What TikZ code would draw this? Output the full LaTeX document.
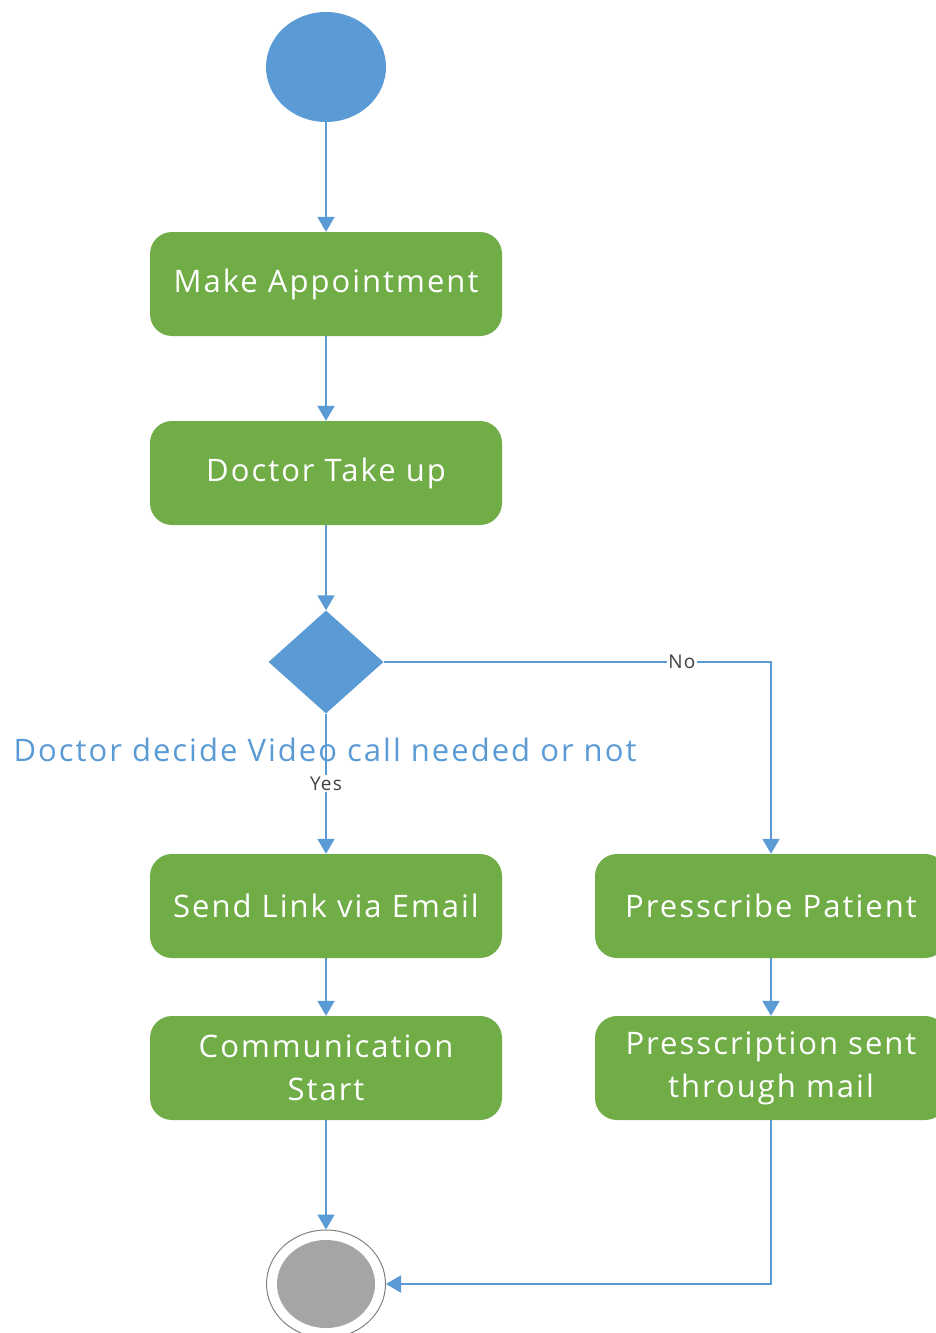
\documentclass[tikz,border=0pt]{standalone}
\usepackage{fontspec}
\setmainfont{Open Sans}[LetterSpace=6.5]
\usetikzlibrary{shapes.geometric,arrows.meta}
\definecolor{ugreen}{HTML}{70AD47}
\definecolor{ublue}{HTML}{5B9BD5}
\definecolor{ugray}{HTML}{A5A5A5}
\begin{document}
\begin{tikzpicture}[x=1pt,y=-1pt,
  act/.style={rectangle, rounded corners=22pt, fill=ugreen, minimum width=352pt,
    minimum height=104pt, text=white, font=\fontsize{31}{43}\selectfont,
    align=center, inner sep=0pt},
  flow/.style={draw=ublue, line width=2pt, -{Triangle[width=17pt,length=15pt]}},
  guard/.style={font=\fontsize{19}{21}\selectfont, text=black!75, fill=white, inner sep=1.5pt}]
\useasboundingbox (0,0) rectangle (936,1333);
\node[ellipse, fill=ublue, minimum width=120pt, minimum height=110pt, inner sep=0pt] (start) at (326,67) {};
\node[act] (make) at (326,284) {Make Appointment};
\node[act] (take) at (326,473) {Doctor Take up};
\node[diamond, fill=ublue, minimum width=115pt, minimum height=103pt, inner sep=0pt] (dec) at (326,662) {};
\node[font=\fontsize{31}{36}\selectfont, text=ublue, inner sep=0pt] (q) at (325,750) {Doctor decide Video call needed or not};
\node[act] (send) at (326,906) {Send Link via Email};
\node[act] (comm) at (326,1068) {Communication\\Start};
\node[act] (presc) at (771,906) {Presscribe Patient};
\node[act] (mail) at (771,1068) {Presscription sent\\through mail};
\node[ellipse, draw=black!50, line width=1pt, fill=white, minimum width=119pt, minimum height=108pt, inner sep=0pt] (end) at (326,1284) {};
\node[ellipse, fill=ugray, minimum width=98pt, minimum height=88pt, inner sep=0pt] (endin) at (end) {};
\draw[flow] (start) -- (make);
\draw[flow] (make) -- (take);
\draw[flow] (take) -- (dec);
\draw[flow] (dec) -- node[guard]{Yes} (send);
\draw[flow] (dec.east) -| node[guard, pos=0.385]{No} (presc.north);
\draw[flow] (send) -- (comm);
\draw[flow] (presc) -- (mail);
\draw[flow] (comm) -- (end);
\draw[flow] (mail.south) |- (end.east);
\end{tikzpicture}
\end{document}
